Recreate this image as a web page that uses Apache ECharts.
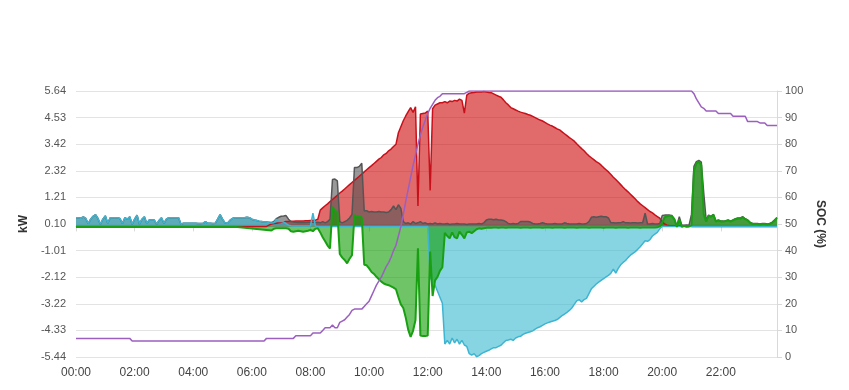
<!DOCTYPE html>
<html>
<head>
<meta charset="utf-8">
<script src="https://cdn.jsdelivr.net/npm/echarts@6/dist/echarts.min.js"></script>
<style>
html,body{margin:0;padding:0;background:#fff;}
#chart{width:849px;height:390px;}
</style>
</head>
<body>
<div id="chart"></div>
<script>
// 5-minute categories 00:00 ... 23:55
const times = [];
for (let h = 0; h < 24; h++) {
  for (let m = 0; m < 60; m += 5) {
    times.push(String(h).padStart(2, '0') + ':' + String(m).padStart(2, '0'));
  }
}

const leftTicks = { min: -5.44, max: 5.64, interval: 1.108 };
const rightTicks = { min: 0, max: 100, interval: 10 };

// PV production (kW)
const pv = [
  0,0,0,0,0,0,0,0,0,0,0,0,
  0,0,0,0,0,0,0,0,0,0,0,0,
  0,0,0,0,0,0,0,0,0,0,0,0,
  0,0,0,0,0,0,0,0,0,0,0,0,
  0,0,0,0,0,0,0,0,0,0,0,0,
  0,0,0,0,0,0,0,0,0,0,0,0,
  0,0,0,0,0,0,0,0.05,0.1,0.12,0.13,0.15,
  0.17,0.18,0.2,0.2,0.21,0.21,0.22,0.22,0.23,0.23,0.24,0.24,
  0.25,0.25,0.26,0.3,0.68,0.77,0.86,0.94,1.03,1.12,1.21,1.3,
  1.39,1.47,1.56,1.65,1.74,1.83,1.92,2.0,2.09,2.18,2.27,2.36,
  2.45,2.53,2.62,2.71,2.8,2.87,2.98,3.04,3.15,3.22,3.33,3.42,
  3.9,4.15,4.4,4.6,4.78,4.95,4.75,4.98,0.85,4.68,4.7,4.72,
  4.8,1.5,4.9,5.05,5.1,5.15,5.15,5.2,5.15,5.22,5.2,5.25,
  5.22,5.3,5.25,4.72,5.47,5.55,5.57,5.58,5.6,5.6,5.6,5.62,
  5.6,5.58,5.57,5.52,5.47,5.42,5.38,5.27,5.15,5.06,4.95,4.9,
  4.85,4.8,4.76,4.73,4.7,4.66,4.63,4.58,4.53,4.48,4.43,4.39,
  4.33,4.27,4.22,4.18,4.12,4.06,4.02,3.94,3.86,3.78,3.7,3.63,
  3.55,3.44,3.34,3.24,3.15,3.04,2.94,2.86,2.78,2.7,2.64,2.55,
  2.45,2.36,2.27,2.16,2.05,1.95,1.85,1.74,1.63,1.53,1.44,1.34,
  1.24,1.14,1.03,0.94,0.86,0.78,0.7,0.62,0.56,0.48,0.41,0.34,
  0.2,0.1,0.05,0.03,0.03,0.03,0.03,0.03,0.03,0.03,0.03,0.03,
  0,0,0,0,0,0,0,0,0,0,0,0,
  0,0,0,0,0,0,0,0,0,0,0,0,
  0,0,0,0,0,0,0,0,0,0,0,0
];

// Consumption (kW)
const load = [
  0.36,0.36,0.34,0.40,0.33,0.12,0.30,0.42,0.49,0.33,0.09,0.30,
  0.44,0.13,0.36,0.36,0.36,0.36,0.33,0.12,0.36,0.30,0.40,0.09,
  0.30,0.47,0.10,0.30,0.40,0.12,0.27,0.27,0.27,0.09,0.25,0.36,
  0.13,0.30,0.36,0.36,0.36,0.36,0.36,0.09,0.13,0.13,0.13,0.13,
  0.13,0.13,0.12,0.12,0.13,0.20,0.13,0.13,0.12,0.13,0.30,0.49,
  0.30,0.15,0.13,0.25,0.33,0.36,0.36,0.36,0.36,0.36,0.38,0.36,
  0.30,0.27,0.25,0.22,0.20,0.18,0.18,0.17,0.16,0.2,0.32,0.38,
  0.42,0.43,0.45,0.3,0.2,0.18,0.17,0.16,0.16,0.16,0.16,0.17,
  0.18,0.17,0.16,0.17,0.15,0.2,0.15,0.2,0.3,1.95,1.97,1.9,
  0.2,0.15,0.2,0.25,0.35,0.5,2.45,2.45,2.5,2.63,0.65,0.65,
  0.6,0.62,0.6,0.6,0.62,0.6,0.6,0.58,0.6,0.7,0.85,0.7,
  0.9,0.75,0.2,0.12,0.15,0.1,0.2,0.12,0.15,0.2,0.12,0.15,
  0.1,0.12,0.1,0.15,0.1,0.12,0.1,0.1,0.12,0.08,0.1,0.1,
  0.12,0.1,0.1,0.1,0.08,0.1,0.1,0.1,0.1,0.12,0.1,0.15,
  0.27,0.3,0.3,0.28,0.3,0.27,0.27,0.25,0.2,0.12,0.1,0.12,
  0.1,0.12,0.2,0.2,0.2,0.2,0.18,0.12,0.1,0.1,0.12,0.15,
  0.12,0.1,0.1,0.1,0.12,0.1,0.1,0.1,0.15,0.12,0.1,0.1,
  0.1,0.1,0.12,0.1,0.1,0.12,0.2,0.38,0.4,0.38,0.4,0.42,
  0.4,0.4,0.35,0.15,0.15,0.14,0.15,0.15,0.2,0.15,0.15,0.14,
  0.15,0.15,0.14,0.15,0.15,0.55,0.1,0.1,0.12,0.1,0.1,0.12,
  0.45,0.47,0.47,0.47,0.45,0.3,0.02,0.4,0.05,0.05,0.06,0.05,
  0.5,2.5,2.7,2.75,2.68,1.4,0.25,0.47,0.42,0.5,0.22,0.27,
  0.22,0.22,0.24,0.27,0.22,0.27,0.32,0.35,0.35,0.4,0.32,0.27,
  0.17,0.12,0.12,0.12,0.1,0.12,0.12,0.1,0.12,0.17,0.27,0.37
];

// Grid (kW, + import / - export)
const grid = [
  0.36,0.36,0.34,0.40,0.33,0.12,0.30,0.42,0.49,0.33,0.09,0.30,
  0.44,0.13,0.36,0.36,0.36,0.36,0.33,0.12,0.36,0.30,0.40,0.09,
  0.30,0.47,0.10,0.30,0.40,0.12,0.27,0.27,0.27,0.09,0.25,0.36,
  0.13,0.30,0.36,0.36,0.36,0.36,0.36,0.09,0.13,0.13,0.13,0.13,
  0.13,0.13,0.12,0.12,0.13,0.20,0.13,0.13,0.12,0.13,0.30,0.49,
  0.30,0.15,0.13,0.25,0.33,0.36,0.36,0.36,0.36,0.36,0.38,0.36,
  0.30,0.27,0.25,0.22,0.20,0.18,0.18,0.15,0.14,0.15,0.30,0.20,
  0.20,0.18,0.12,0.05,0.03,0.02,0.02,0.02,0.02,0.02,0.02,0.02,
  0.02,0.55,0.02,0,0,0,0,0,0,0,0,0,
  0,0,0,0,0,0,0,0,0,0,0,0,
  0,0,0,0,0,0,0,0,0,0,0,0,
  0,0,0,0,0,0,0,0,0,0,0,0,
  0,-2.1,-2.35,-2.45,-2.7,-2.95,-3.2,-4.9,-4.75,-4.9,-4.65,-4.85,
  -4.7,-4.9,-4.75,-4.94,-5.0,-5.3,-5.36,-5.3,-5.43,-5.38,-5.3,-5.25,
  -5.2,-5.16,-5.1,-5.05,-5.05,-5.0,-4.95,-4.85,-4.75,-4.73,-4.7,-4.75,
  -4.65,-4.6,-4.58,-4.5,-4.45,-4.42,-4.39,-4.35,-4.28,-4.22,-4.18,-4.12,
  -4.06,-4.02,-3.98,-3.95,-3.92,-3.88,-3.8,-3.72,-3.65,-3.58,-3.5,-3.4,
  -3.25,-3.1,-3.05,-3.15,-3.05,-3.0,-2.8,-2.6,-2.5,-2.4,-2.32,-2.25,
  -2.18,-2.1,-2.04,-1.95,-1.78,-1.95,-1.75,-1.6,-1.5,-1.42,-1.3,-1.2,
  -1.12,-1.05,-0.95,-0.85,-0.72,-0.6,-0.62,-0.55,-0.4,-0.32,-0.25,-0.1,
  0,0,0,0,0,0,0,0,0,0,0,0,
  0,0,0,0,0,0,0,0,0,0,0,0,
  0,0,0,0,0,0,0,0,0,0,0,0,
  0,0,0,0,0,0,0,0,0,0,0,0
];

// Battery (kW, + discharge / - charge)
const battery = [
  -0.03,-0.03,-0.03,-0.03,-0.03,-0.03,-0.03,-0.03,-0.03,-0.03,-0.03,-0.03,
  -0.03,-0.03,-0.03,-0.03,-0.03,-0.03,-0.03,-0.03,-0.03,-0.03,-0.03,-0.03,
  -0.03,-0.03,-0.03,-0.03,-0.03,-0.03,-0.03,-0.03,-0.03,-0.03,-0.03,-0.03,
  -0.03,-0.03,-0.03,-0.03,-0.03,-0.03,-0.03,-0.03,-0.03,-0.03,-0.03,-0.03,
  -0.03,-0.03,-0.03,-0.03,-0.03,-0.03,-0.03,-0.03,-0.03,-0.03,-0.03,-0.03,
  -0.03,-0.03,-0.03,-0.03,-0.03,-0.03,-0.03,-0.04,-0.05,-0.06,-0.07,-0.08,
  -0.09,-0.1,-0.11,-0.12,-0.13,-0.14,-0.15,-0.16,-0.17,-0.1,-0.08,-0.08,
  -0.08,-0.08,-0.08,-0.1,-0.2,-0.22,-0.2,-0.18,-0.2,-0.22,-0.2,-0.18,
  -0.15,-0.2,-0.1,-0.08,-0.25,-0.45,-0.62,-0.8,-0.92,0.82,0.65,0.6,
  -1.15,-1.3,-1.4,-1.54,-1.35,-1.2,0.47,0.42,0.4,0.38,-1.6,-1.62,
  -1.75,-1.9,-1.98,-2.1,-2.2,-2.3,-2.38,-2.42,-2.45,-2.5,-2.55,-2.62,
  -2.95,-3.25,-3.4,-3.8,-4.3,-4.6,-4.35,-3.9,-0.91,-4.55,-4.57,-4.57,
  -4.55,-1.05,-2.9,-2.25,-2.1,-1.85,-1.7,-0.27,-0.4,-0.5,-0.25,-0.45,
  -0.5,-0.22,-0.35,-0.5,-0.25,-0.22,-0.28,-0.2,-0.12,-0.08,-0.1,-0.08,
  -0.06,-0.05,-0.06,-0.05,-0.05,-0.06,-0.05,-0.05,-0.06,-0.05,-0.05,-0.05,
  -0.05,-0.05,-0.06,-0.05,-0.05,-0.05,-0.06,-0.05,-0.05,-0.05,-0.05,-0.06,
  -0.05,-0.05,-0.05,-0.06,-0.05,-0.05,-0.05,-0.05,-0.06,-0.05,-0.05,-0.05,
  -0.05,-0.06,-0.05,-0.05,-0.05,-0.05,-0.06,-0.05,-0.05,-0.05,-0.05,-0.05,
  -0.06,-0.05,-0.05,-0.05,-0.05,-0.06,-0.05,-0.05,-0.05,-0.05,-0.06,-0.05,
  -0.05,-0.05,-0.05,-0.06,-0.05,-0.05,-0.05,-0.05,-0.05,-0.05,-0.04,0.0,
  0.15,0.38,0.42,0.45,0.42,0.3,-0.02,0.3,-0.02,0.02,-0.02,0.0,
  0.05,2.3,2.62,2.7,2.55,0.5,0.2,0.45,0.4,0.48,0.2,0.25,
  0.2,0.2,0.22,0.25,0.2,0.25,0.3,0.33,0.33,0.38,0.3,0.25,
  0.15,0.1,0.1,0.1,0.08,0.1,0.1,0.08,0.1,0.15,0.25,0.35
];

// Battery state of charge (%)
const soc = [
  7,7,7,7,7,7,7,7,7,7,7,7,
  7,7,7,7,7,7,7,7,7,7,7,6,
  6,6,6,6,6,6,6,6,6,6,6,6,
  6,6,6,6,6,6,6,6,6,6,6,6,
  6,6,6,6,6,6,6,6,6,6,6,6,
  6,6,6,6,6,6,6,6,6,6,6,6,
  6,6,6,6,6,6,7,7,7,7,7,7,
  7,7,7,7,7,7,8,8,8,8,8,8,
  8,9,9,9,9,10,11,11,11,12,11,11,
  13,13.5,14,15,16,17.5,18,18,18,18,19,20,
  21,23,25,27,28.5,30,32,34,35.5,37.5,40,42,
  45.5,49,53.5,58.5,63,67.5,72,76,80,83.5,86.5,89,
  91.5,93.5,95,96.5,97.5,98,99,99,99,99,99,99,
  99,99,99,99,99.5,100,100,100,100,100,100,100,
  100,100,100,100,100,100,100,100,100,100,100,100,
  100,100,100,100,100,100,100,100,100,100,100,100,
  100,100,100,100,100,100,100,100,100,100,100,100,
  100,100,100,100,100,100,100,100,100,100,100,100,
  100,100,100,100,100,100,100,100,100,100,100,100,
  100,100,100,100,100,100,100,100,100,100,100,100,
  100,100,100,100,100,100,100,100,100,100,100,100,
  100,99,97,95.5,94,93.5,92.5,92.5,92.5,92.5,92.5,91.5,
  91.5,91.5,91.5,91.5,91.5,90.5,90.5,90.5,90.5,90.5,90.5,88.5,
  88.5,88.5,88.5,88.5,88,88,88,87,87,87,87,87
];

const FONT = 'Liberation Sans, Arial, sans-serif';
const chart = echarts.init(document.getElementById('chart'), null, { renderer: 'canvas' });

function area(name, data, lineColor, fillColor, width) {
  return {
    name, type: 'line', data, yAxisIndex: 0,
    showSymbol: false, symbol: 'none', animation: false,
    lineStyle: { color: lineColor, width: width },
    itemStyle: { color: lineColor },
    areaStyle: { color: fillColor, opacity: 1 }
  };
}

chart.setOption({
  animation: false,
  backgroundColor: '#fff',
  textStyle: { fontFamily: FONT },
  grid: { left: 76, right: 72, top: 91, bottom: 33, containLabel: false },
  xAxis: {
    type: 'category',
    data: times,
    boundaryGap: false,
    axisLine: { show: true, lineStyle: { color: '#d9d9d9', width: 1 } },
    axisTick: { show: true, interval: 23, length: 5, lineStyle: { color: '#d9d9d9' } },
    axisLabel: { interval: 23, color: '#444', fontSize: 12, fontFamily: FONT, margin: 10 },
    splitLine: { show: false }
  },
  yAxis: [
    {
      type: 'value',
      min: leftTicks.min, max: leftTicks.max, interval: leftTicks.interval,
      name: 'kW', nameLocation: 'middle', nameGap: 43, nameRotate: 90,
      nameTextStyle: { fontWeight: 'bold', fontSize: 12, color: '#333', fontFamily: FONT },
      axisLine: { show: false },
      axisTick: { show: false },
      axisLabel: { color: '#555', fontSize: 11, fontFamily: FONT, margin: 10,
        formatter: v => (Math.abs(v) < 1e-9 ? 0 : v).toFixed(2) },
      splitLine: { show: true, lineStyle: { color: '#e3e3e3', width: 1 } }
    },
    {
      type: 'value',
      min: rightTicks.min, max: rightTicks.max, interval: rightTicks.interval,
      name: 'SOC (%)', nameLocation: 'middle', nameGap: 36, nameRotate: -90,
      nameTextStyle: { fontWeight: 'bold', fontSize: 12, color: '#333', fontFamily: FONT },
      axisLine: { show: true, lineStyle: { color: '#d9d9d9' } },
      axisTick: { show: true, length: 5, lineStyle: { color: '#d9d9d9' } },
      axisLabel: { color: '#555', fontSize: 11, fontFamily: FONT, margin: 8 },
      splitLine: { show: false }
    }
  ],
  series: [
    area('PV', pv, '#c8101a', 'rgba(204,0,0,0.58)', 1.5),
    area('Load', load, '#555555', 'rgba(85,85,85,0.6)', 1.5),
    area('Grid', grid, '#3db5d2', 'rgba(55,185,208,0.6)', 1.5),
    area('Battery', battery, '#18a012', 'rgba(13,157,0,0.6)', 2),
    {
      name: 'SOC', type: 'line', data: soc, yAxisIndex: 1,
      showSymbol: false, symbol: 'none',
      lineStyle: { color: '#9b5fc0', width: 1.5 },
      itemStyle: { color: '#9b5fc0' }
    }
  ]
});
</script>
</body>
</html>
